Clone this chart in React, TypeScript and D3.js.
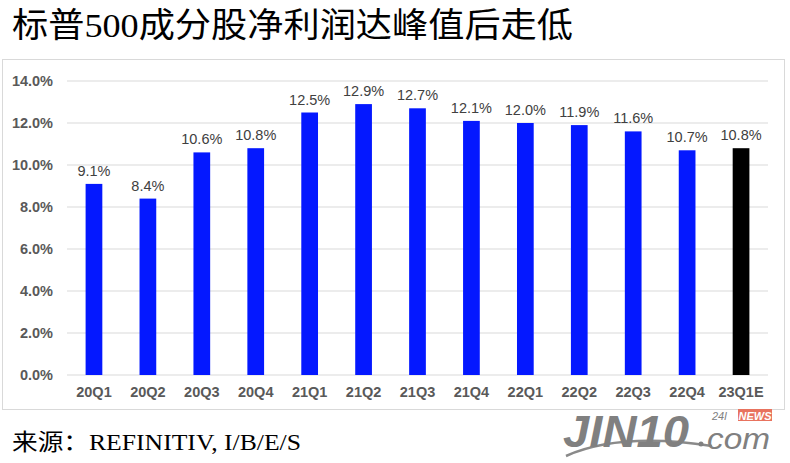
import { useMemo } from "react";
import * as d3 from "d3";

const WIDTH = 790;
const HEIGHT = 463;
const MARGIN = { top: 81, right: 22, bottom: 88, left: 67 };

const quarters = ["20Q1", "20Q2", "20Q3", "20Q4", "21Q1", "21Q2", "21Q3", "21Q4", "22Q1", "22Q2", "22Q3", "22Q4", "23Q1E"];
const margins = [9.1, 8.4, 10.6, 10.8, 12.5, 12.9, 12.7, 12.1, 12.0, 11.9, 11.6, 10.7, 10.8];
const yTicks = [0, 2, 4, 6, 8, 10, 12, 14];

const TITLE = "标普500成分股净利润达峰值后走低";
const SOURCE = "来源：REFINITIV, I/B/E/S";

const BLUE = "#0418ff";
const LABEL_FONT = "Arial, 'Liberation Sans', sans-serif";
const SERIF_FONT = "'Liberation Serif', 'Noto Sans CJK SC', serif";

export default function App() {
  const boundsWidth = WIDTH - MARGIN.left - MARGIN.right;
  const boundsHeight = HEIGHT - MARGIN.top - MARGIN.bottom;

  const xScale = useMemo(
    () => d3.scaleBand().domain(quarters).range([0, boundsWidth]).paddingInner(0.69).paddingOuter(0.345),
    [boundsWidth]
  );
  const yScale = useMemo(() => d3.scaleLinear().domain([0, 14]).range([boundsHeight, 0]), [boundsHeight]);

  return (
    <svg width={WIDTH} height={HEIGHT} style={{ position: "absolute", left: 0, top: 0, background: "#fff" }}>
      <text x={12} y={37} fontSize={34} fontFamily={SERIF_FONT} fill="#000" textLength={561} lengthAdjust="spacingAndGlyphs">
        {TITLE}
      </text>

      {/* chart frame */}
      <rect x={2.5} y={59.5} width={782} height={350} fill="#fff" stroke="#d9d9d9" strokeWidth={1} />

      <g transform={`translate(${MARGIN.left},${MARGIN.top})`}>
        {yTicks.map((t) => (
          <g key={t} transform={`translate(0,${yScale(t)})`}>
            <line x1={0} x2={boundsWidth} stroke="#d9d9d9" strokeWidth={1} />
            <text x={-14} dy="0.35em" textAnchor="end" fontSize={14.5} fontWeight="bold" fontFamily={LABEL_FONT} fill="#595959">
              {t.toFixed(1) + "%"}
            </text>
          </g>
        ))}

        {quarters.map((q, i) => {
          const x = xScale(q)!;
          const v = margins[i];
          const cx = x + xScale.bandwidth() / 2;
          return (
            <g key={q}>
              <rect
                x={x}
                y={yScale(v)}
                width={xScale.bandwidth()}
                height={boundsHeight - yScale(v)}
                fill={i === quarters.length - 1 ? "#000" : BLUE}
              />
              <text x={cx} y={yScale(v) - 8} textAnchor="middle" fontSize={14.5} fontFamily={LABEL_FONT} fill="#404040">
                {v.toFixed(1) + "%"}
              </text>
              <text x={cx} y={boundsHeight + 22} textAnchor="middle" fontSize={14.5} fontWeight="bold" fontFamily={LABEL_FONT} fill="#595959">
                {q}
              </text>
            </g>
          );
        })}
      </g>

      <text x={12} y={450} fontSize={23} fontFamily={SERIF_FONT} fill="#000" textLength={289} lengthAdjust="spacingAndGlyphs">
        {SOURCE}
      </text>

      {/* watermark logo */}
      <path d="M566,456 Q620,432 712,446" fill="none" stroke="#8a8a8a" strokeWidth={2.5} />
      <text x={563} y={447} fontSize={44} fontWeight="bold" fontStyle="italic" fontFamily={LABEL_FONT} fill="#808080" textLength={126} lengthAdjust="spacingAndGlyphs">
        JIN10
      </text>
      <circle cx={701} cy={444} r={2.5} fill="#808080" />
      <text x={707} y={449} fontSize={29} fontStyle="italic" fontFamily={LABEL_FONT} fill="#808080" textLength={63} lengthAdjust="spacingAndGlyphs">
        com
      </text>
      <text x={712} y={420} fontSize={11} fontStyle="italic" fontFamily={LABEL_FONT} fill="#808080">
        24l
      </text>
      <rect x={738} y={409} width={34} height={12} fill="#e8735e" />
      <text x={755} y={419.5} fontSize={11} fontWeight="bold" fontStyle="italic" fontFamily={LABEL_FONT} textAnchor="middle" fill="#fff">
        NEWS
      </text>
    </svg>
  );
}
